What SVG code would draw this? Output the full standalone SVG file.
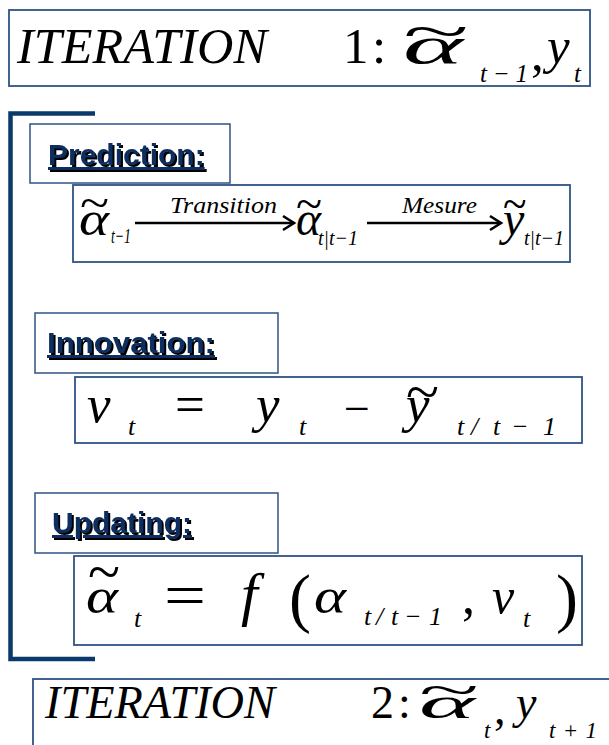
<svg xmlns="http://www.w3.org/2000/svg" width="609" height="745" viewBox="0 0 609 745">
<style>
.box{fill:#fff;stroke:#2f5384;stroke-width:1.8}
.lbox{fill:#fff;stroke:#2f5384;stroke-width:1.5}
.m{font-family:'Liberation Serif','Times New Roman',serif;fill:#000}
.i{font-style:italic}
.lbl{font-family:'Liberation Sans',Arial,sans-serif;font-weight:bold;font-size:30px;text-decoration:underline;fill:#0c2d5f}
.br{fill:none;stroke:#0a3a6b;stroke-width:4.5}
.arr{stroke:#000;stroke-width:2.5;fill:none}
</style>
<defs>
<marker id="ah" markerUnits="userSpaceOnUse" markerWidth="16" markerHeight="18" viewBox="-13 -9 16 18" refX="0" refY="0" orient="auto">
<path d="M-11,-7 L0,0 L-11,7" fill="none" stroke="#000" stroke-width="2.6"/>
</marker>
<filter id="sh" x="-5%" y="-10%" width="115%" height="130%">
<feOffset in="SourceAlpha" dx="2" dy="2" result="o"/>
<feMerge><feMergeNode in="o"/><feMergeNode in="SourceGraphic"/></feMerge>
</filter>
</defs>

<g id="bracket">
<path class="br" d="M95,113.5 H10.5 V659 H95"/>
</g>

<g id="iter1">
<rect class="box" x="9" y="10" width="581" height="76"/>
<text class="m i" x="17" y="63" font-size="51" textLength="250" lengthAdjust="spacingAndGlyphs">ITERATION</text>
<text class="m" x="343" y="63" font-size="51">1</text>
<text class="m" x="372" y="63" font-size="51">:</text>
<text class="m" x="403" y="49" font-size="52" textLength="66" lengthAdjust="spacingAndGlyphs">~</text>
<text class="m i" x="403" y="63" font-size="52" textLength="60" lengthAdjust="spacingAndGlyphs">α</text>
<text class="m i" x="480" y="82" font-size="25" textLength="48" lengthAdjust="spacing">t−1</text>
<text class="m" x="531" y="70" font-size="51">,</text>
<text class="m i" x="547" y="63" font-size="51">y</text>
<text class="m i" x="574" y="82" font-size="25">t</text>
</g>

<g id="pred-label">
<rect class="lbox" x="30" y="124" width="200" height="59"/>
<text class="lbl" x="48" y="165" filter="url(#sh)">Prediction:</text>
</g>

<g id="pred-formula">
<rect class="box" x="73" y="185" width="497" height="77"/>
<text class="m" x="80" y="218" font-size="46" textLength="29" lengthAdjust="spacingAndGlyphs">~</text>
<text class="m i" x="79" y="235" font-size="48" textLength="30" lengthAdjust="spacingAndGlyphs">α</text>
<text class="m i" x="111" y="243" font-size="21" textLength="20" lengthAdjust="spacingAndGlyphs">t−1</text>
<text class="m i" x="170" y="213" font-size="24" textLength="107" lengthAdjust="spacingAndGlyphs">Transition</text>
<text class="m" x="296" y="219" font-size="46" textLength="26" lengthAdjust="spacingAndGlyphs">~</text>
<text class="m i" x="296" y="235" font-size="48" textLength="25" lengthAdjust="spacingAndGlyphs">α</text>
<text class="m i" x="318" y="245" font-size="21" textLength="40" lengthAdjust="spacingAndGlyphs">t|t−1</text>
<text class="m i" x="402" y="213" font-size="24" textLength="75" lengthAdjust="spacingAndGlyphs">Mesure</text>
<text class="m" x="503" y="219" font-size="46" textLength="23.5" lengthAdjust="spacingAndGlyphs">~</text>
<text class="m i" x="503" y="235" font-size="48">y</text>
<text class="m i" x="524" y="245" font-size="21" textLength="40" lengthAdjust="spacingAndGlyphs">t|t−1</text>
</g>

<g id="connectors">
<line class="arr" x1="135" y1="223" x2="294" y2="223" marker-end="url(#ah)"/>
<line class="arr" x1="367" y1="223" x2="501" y2="223" marker-end="url(#ah)"/>
</g>

<g id="innov-label">
<rect class="lbox" x="35" y="313" width="243" height="60"/>
<text class="lbl" x="47" y="353" textLength="168" lengthAdjust="spacingAndGlyphs" filter="url(#sh)">Innovation:</text>
</g>

<g id="innov-formula">
<rect class="box" x="75" y="377" width="507" height="66"/>
<text class="m i" x="87" y="422" font-size="53">v</text>
<text class="m i" x="128" y="435" font-size="26">t</text>
<text class="m" x="175" y="422" font-size="53">=</text>
<text class="m i" x="256" y="422" font-size="53">y</text>
<text class="m i" x="299" y="435" font-size="26">t</text>
<text class="m" x="344" y="424" font-size="46">−</text>
<text class="m" x="406" y="411" font-size="56" textLength="33" lengthAdjust="spacingAndGlyphs">~</text>
<text class="m i" x="406" y="422" font-size="53">y</text>
<text class="m i" x="457 471 493 511 543" y="435" font-size="26">t/t−1</text>
</g>

<g id="upd-label">
<rect class="lbox" x="35" y="493" width="243" height="60"/>
<text class="lbl" x="52" y="533" filter="url(#sh)">Updating:</text>
</g>

<g id="upd-formula">
<rect class="box" x="74" y="556" width="508" height="89"/>
<text class="m" x="88" y="592" font-size="60" textLength="32" lengthAdjust="spacingAndGlyphs">~</text>
<text class="m i" x="86" y="613" font-size="50" textLength="32" lengthAdjust="spacingAndGlyphs">α</text>
<text class="m i" x="134" y="627" font-size="26">t</text>
<text class="m" x="164" y="615" font-size="60" textLength="42" lengthAdjust="spacingAndGlyphs">=</text>
<text class="m i" x="241" y="614" font-size="60">f</text>
<text class="m" x="289" y="620" font-size="66">(</text>
<text class="m i" x="314" y="613" font-size="50" textLength="32" lengthAdjust="spacingAndGlyphs">α</text>
<text class="m i" x="364 376 391 404 429" y="625" font-size="26">t/t−1</text>
<text class="m" x="462" y="613" font-size="52">,</text>
<text class="m i" x="492" y="613" font-size="50">v</text>
<text class="m i" x="523" y="627" font-size="26">t</text>
<text class="m" x="556" y="620" font-size="66">)</text>
</g>

<g id="iter2">
<rect class="box" x="33" y="679" width="600" height="90"/>
<text class="m i" x="45" y="718" font-size="46" textLength="230" lengthAdjust="spacingAndGlyphs">ITERATION</text>
<text class="m" x="371" y="718" font-size="46">2</text>
<text class="m" x="398" y="718" font-size="46">:</text>
<text class="m" x="419" y="705" font-size="46" textLength="60" lengthAdjust="spacingAndGlyphs">~</text>
<text class="m i" x="419" y="718" font-size="44" textLength="56" lengthAdjust="spacingAndGlyphs">α</text>
<text class="m i" x="484" y="738" font-size="23">t</text>
<text class="m" x="494" y="724" font-size="46">,</text>
<text class="m i" x="516" y="718" font-size="46">y</text>
<text class="m i" x="549" y="738" font-size="23" textLength="48" lengthAdjust="spacing">t+1</text>
</g>
</svg>
